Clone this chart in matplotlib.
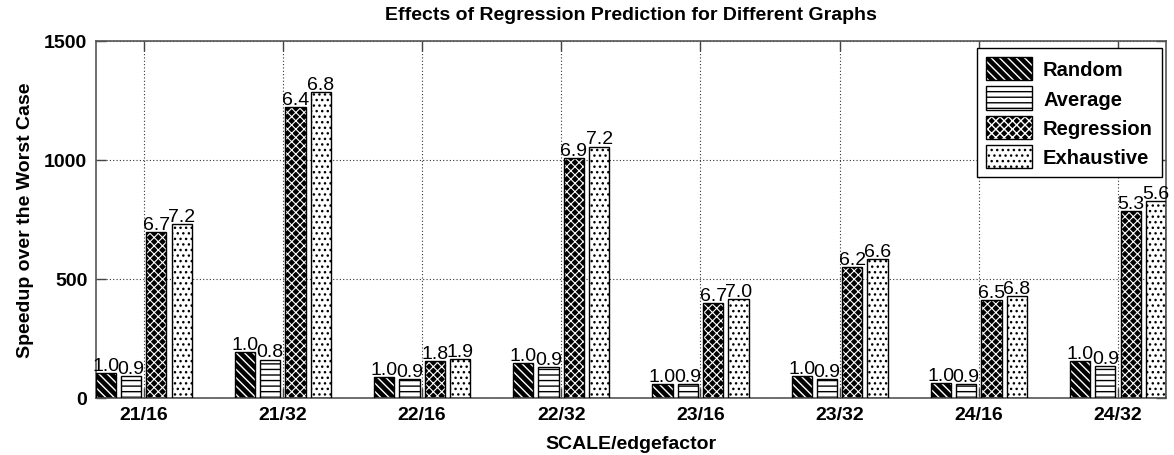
import matplotlib
matplotlib.use("Agg")
import matplotlib.pyplot as plt
from matplotlib.patches import Patch
import numpy as np

categories = ["21/16", "21/32", "22/16", "22/32", "23/16", "23/32", "24/16", "24/32"]
series_names = ["Random", "Average", "Regression", "Exhaustive"]
random_vals = [105, 191, 86, 146, 58, 90, 62, 153]
average_vals = [90, 160, 79, 128, 55, 76, 55, 132]
regression_vals = [697, 1221, 153, 1006, 396, 549, 410, 785]
exhaustive_vals = [730, 1284, 163, 1056, 416, 582, 427, 827]
random_labels = ["1.0"] * 8
average_labels = ["0.9", "0.8", "0.9", "0.9", "0.9", "0.9", "0.9", "0.9"]
regression_labels = ["6.7", "6.4", "1.8", "6.9", "6.7", "6.2", "6.5", "5.3"]
exhaustive_labels = ["7.2", "6.8", "1.9", "7.2", "7.0", "6.6", "6.8", "5.6"]
yticks = [0, 500, 1000, 1500]

plt.rcParams['font.family'] = ['Liberation Sans', 'DejaVu Sans']

fig = plt.figure(figsize=(11.74, 4.56), dpi=100)
ax = fig.add_axes([0.0815, 0.126, 0.9117, 0.782])

styles = [
    dict(face='black', hatchcol='white', hatch='\\\\\\\\', hlw=1.0),
    dict(face='white', hatchcol='black', hatch='---', hlw=1.0),
    dict(face='black', hatchcol='white', hatch='xxxx', hlw=0.8),
    dict(face='white', hatchcol='black', hatch='...', hlw=1.0),
]
values = [random_vals, average_vals, regression_vals, exhaustive_vals]
labels = [random_labels, average_labels, regression_labels, exhaustive_labels]

x = np.arange(1, len(categories) + 1)
step = 0.727 / 4
width = step * 0.8
handles = []
for i, (vals, labs, st) in enumerate(zip(values, labels, styles)):
    xs = x + (i - 1.5) * step
    with plt.rc_context({'hatch.linewidth': st['hlw']}):
        bars = ax.bar(xs, vals, width, facecolor=st['face'], edgecolor=st['hatchcol'],
                      hatch=st['hatch'], linewidth=0, zorder=2)
        h1 = Patch(facecolor=st['face'], edgecolor=st['hatchcol'], hatch=st['hatch'], linewidth=0)
    for b in list(bars) + [h1]:
        if hasattr(b, 'set_hatch_linewidth'):
            b.set_hatch_linewidth(st['hlw'])
    ax.bar(xs, vals, width, fill=False, edgecolor='black', linewidth=1.0, zorder=3)
    for xi, v, lab in zip(xs, vals, labs):
        ax.text(xi, v - 4, lab, ha='center', va='bottom', fontsize=14, zorder=4)
    h2 = Patch(fill=False, edgecolor='black', linewidth=1.0)
    handles.append((h1, h2))

ax.set_xlim(0.655, 8.345)
ax.set_ylim(0, 1500)
ax.set_xticks(x)
ax.set_xticklabels(categories, fontsize=14, fontweight='bold')
ax.set_yticks(yticks)
ax.set_yticklabels([str(t) for t in yticks], fontsize=14, fontweight='bold')
ax.tick_params(direction='in', length=7.5, width=1, color='#444444', pad=6,
               top=True, right=True)
ax.set_axisbelow(True)
ax.grid(True, linestyle=(0, (1, 2)), color='#333333', linewidth=0.8)
for s in ax.spines.values():
    s.set_color('#555555')
    s.set_linewidth(1.2)

ax.set_title("Effects of Regression Prediction for Different Graphs",
             fontsize=14, fontweight='bold', pad=16)
ax.set_xlabel("SCALE/edgefactor", fontsize=14, fontweight='bold', labelpad=9)
ax.set_ylabel("Speedup over the Worst Case", fontsize=14, fontweight='bold', labelpad=7)

leg = ax.legend(handles, series_names, loc='upper right', bbox_to_anchor=(0.9963, 0.98),
                prop={'weight': 'bold', 'size': 14.5},
                handlelength=2.3, handleheight=1.4, handletextpad=0.55,
                labelspacing=0.3, borderpad=0.45, borderaxespad=0,
                fancybox=False, framealpha=1, edgecolor='black')
leg.get_frame().set_linewidth(1.0)
leg.set_zorder(5)

fig.savefig("out.png", dpi=100)
